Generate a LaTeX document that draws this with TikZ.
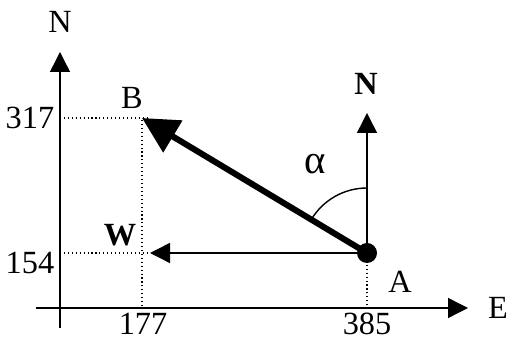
\documentclass[tikz,border=0pt]{standalone}
\usepackage{fontspec}
\setmainfont{Liberation Serif}
\usetikzlibrary{arrows.meta}
\tikzset{
  lbl/.style={font=\fontsize{23}{27}\selectfont,inner sep=0pt},
  lblb/.style={font=\fontsize{23}{27}\selectfont\bfseries,inner sep=0pt},
  axis/.style={line width=1pt,-{Triangle[length=0.5cm,width=0.5cm]}},
  guide/.style={line width=0.8pt,dotted},
  bear/.style={line width=4.3pt,-{Triangle[length=0.9cm,width=0.9cm]}},
}
\begin{document}
\begin{tikzpicture}[x=1cm,y=1cm]
\useasboundingbox (0,0) rectangle (12.675,8.5);
\def\xB{3.55}\def\yB{5.55}\def\xA{9.175}\def\yA{2.175}
% axes
\coordinate (n0) at (1.5,0.3);
\coordinate (n1) at (1.5,7.2);
\coordinate (e0) at (0.9,0.8);
\coordinate (e1) at (11.7,0.8);
\draw[axis](n0)--(n1);
\draw[axis](e0)--(e1);
\node[lbl] at (1.5,7.95)(NL){N};
\node[lbl] at (12.45,0.8)(EL){E};
% points
\coordinate (A) at (\xA,\yA);
\coordinate (B) at (\xB,\yB);
\coordinate (W) at (3.75,\yA);
\coordinate (Nt) at (\xA,5.675);
\coordinate (yb) at (1.5,\yB);
\coordinate (ya) at (1.5,\yA);
\coordinate (xb) at (\xB,0.8);
\coordinate (xa) at (\xA,0.8);
\coordinate (bx) at (3.7,\yB);
% guides
\draw[guide](yb)--(bx);
\draw[guide](\xB,5.5)--(xb);
\draw[guide](ya)--(W);
\draw[guide](A)--(xa);
% vectors
\draw[axis](A)--(W);
\draw[axis](A)--(Nt);
\draw[bear](A)--(B);
\fill(A) circle (0.25);
\draw[line width=1pt](\xA,\yA)++(90:1.625) arc (90:149.04:1.625);
% labels
\node[lbl]  at (0.75,\yB)(l317){317};
\node[lbl]  at (0.75,1.925)(l154){154};
\node[lbl]  at (3.575,0.4)(l177){177};
\node[lbl]  at (\xA,0.39)(l385){385};
\node[lbl]  at (3.3,6.05)(lB){B};
\node[lbl]  at (10.0,1.45)(lA){A};
\node[lblb] at (3.0,2.63)(lW){W};
\node[lblb] at (9.15,6.4)(lN){N};
\node[lbl,font=\fontsize{29}{33}\selectfont] at (7.875,4.4)(la){α};
\end{tikzpicture}
\end{document}
